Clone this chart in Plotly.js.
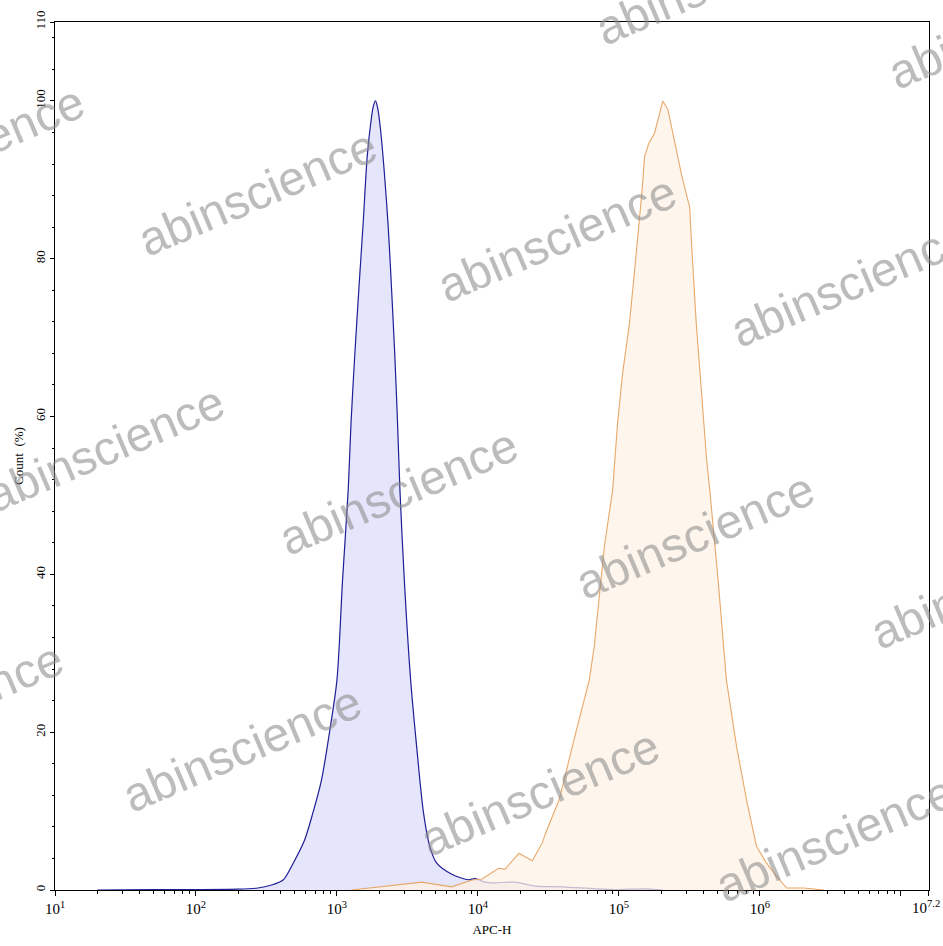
<!DOCTYPE html>
<html>
<head>
<meta charset="utf-8">
<script src="https://cdn.plot.ly/plotly-3.0.1.min.js"></script>
<style>html,body{margin:0;padding:0;background:#fff;}#chart{width:943px;height:946px;}</style>
</head>
<body>
<div id="chart"></div>
<script>
// Isotype control (blue) - x as log10(APC-H), y as Count (%)
const blueLogX = [1.3, 1.7, 2.0, 2.3, 2.44, 2.53, 2.62, 2.69, 2.77, 2.83, 2.89, 2.95, 3.00, 3.04, 3.08, 3.10, 3.126, 3.155, 3.186, 3.215, 3.240, 3.258, 3.274, 3.290, 3.308, 3.336, 3.364, 3.388, 3.411, 3.430, 3.447, 3.478, 3.523, 3.566, 3.614, 3.659, 3.708, 3.815, 3.934, 3.979, 4.05, 4.122, 4.264, 4.407, 4.6, 4.835, 4.977, 5.17, 5.312];
const blueY    = [0, 0.05, 0.05, 0.1, 0.25, 0.6, 1.3, 3.4, 6.3, 9.8, 13.9, 20.3, 26.6, 39.3, 50.7, 59.2, 67.6, 76.0, 84.5, 93.0, 97.2, 99.3, 100, 99.0, 96.6, 91.0, 84.0, 76.0, 67.6, 59.2, 50.7, 39.3, 26.6, 18.1, 9.8, 5.5, 3.4, 2.0, 1.3, 1.45, 1.0, 0.9, 1.0, 0.5, 0.4, 0.15, 0.05, 0.15, 0];
// Stained sample (orange)
const orangeLogX = [3.103, 3.602, 3.815, 3.958, 4.029, 4.148, 4.193, 4.291, 4.386, 4.457, 4.480, 4.576, 4.694, 4.790, 4.825, 4.861, 4.897, 4.956, 4.991, 5.027, 5.075, 5.110, 5.146, 5.165, 5.182, 5.212, 5.253, 5.312, 5.348, 5.383, 5.407, 5.443, 5.490, 5.502, 5.521, 5.549, 5.585, 5.621, 5.645, 5.704, 5.763, 5.835, 5.906, 5.977, 6.048, 6.120, 6.191, 6.310, 6.453];
const orangeY    = [0, 1.0, 0.4, 1.27, 1.4, 2.75, 2.65, 4.65, 3.7, 6.0, 7.2, 11.4, 19.9, 26.6, 30.8, 37.2, 43.5, 50.7, 59.2, 65.5, 71.8, 78.2, 84.5, 88.7, 92.9, 94.6, 95.9, 100, 98.9, 95.9, 93.8, 90.8, 87.4, 86.6, 80.3, 71.8, 63.4, 54.9, 50.7, 39.3, 26.6, 18.2, 11.4, 5.5, 3.4, 1.7, 0.25, 0.25, 0];

const xTickLog = [1, 2, 3, 4, 5, 6, 7, 7.2];
const xTickText = ['10<sup>1</sup>', '10<sup>2</sup>', '10<sup>3</sup>', '10<sup>4</sup>', '10<sup>5</sup>', '10<sup>6</sup>', ' ', ' '];
const xEndLabel = '10<sup>7.2</sup>';
const yTickVals = [0, 20, 40, 60, 80, 100, 110];

const watermarkText = 'abinscience';
const watermarkPx = [[258,193],[557,238],[850,283],[105,448],[399,492],[695,535],[990,585],[242,748],[540,792],[835,838],[-35,148],[-56,705],[715,-19],[1008,26],[84,1005]];

const pow10 = a => a.map(v => Math.pow(10, v));

// minor ticks on the log axis (2..9 per decade)
const minorX = [];
for (let d = 1; d <= 7; d++) for (let m = 2; m <= 9; m++) { const v = m * Math.pow(10, d); if (Math.log10(v) <= 7.2) minorX.push(v); }

const W = 943, H = 946, L = 55, R = 14, T = 22, B = 56;
const pw = W - L - R, ph = H - T - B;

const traces = [
  {x: pow10(blueLogX), y: blueY, type: 'scatter', mode: 'lines', fill: 'tozeroy',
   fillcolor: 'rgba(225,225,250,0.85)', line: {color: '#1e1e96', width: 1.2, shape: 'spline', smoothing: 0.8}, hoverinfo: 'skip'},
  {x: pow10(orangeLogX), y: orangeY, type: 'scatter', mode: 'lines', fill: 'tozeroy',
   fillcolor: 'rgba(253,241,230,0.75)', line: {color: '#e8a86a', width: 1.1, shape: 'linear'}, hoverinfo: 'skip'}
];

const annotations = watermarkPx.map(p => ({
  text: watermarkText, xref: 'paper', yref: 'paper',
  x: (p[0] - L) / pw, y: (H - B - p[1]) / ph, xanchor: 'center', yanchor: 'middle',
  showarrow: false, textangle: -23,
  font: {family: 'Liberation Sans, Arial, sans-serif', size: 48, color: 'rgba(140,140,140,0.58)'}
}));
// end-of-axis tick label, right-aligned so it stays inside the page
annotations.push({
  text: xEndLabel, xref: 'paper', yref: 'paper', x: (942 - L) / pw, y: 0,
  xanchor: 'right', yanchor: 'top', yshift: -6, showarrow: false,
  font: {family: 'Liberation Serif, serif', size: 15, color: '#000'}
});

const layout = {
  width: W, height: H,
  margin: {l: L, r: R, t: T, b: B},
  paper_bgcolor: '#fff', plot_bgcolor: '#fff',
  showlegend: false,
  font: {family: 'Liberation Serif, Times New Roman, serif', color: '#000'},
  xaxis: {
    type: 'log', range: [1, 7.2002], autorange: false,
    tickmode: 'array', tickvals: pow10(xTickLog), ticktext: xTickText,
    ticks: 'outside', ticklen: 5, tickwidth: 1, tickcolor: '#000',
    minor: {tickmode: 'array', tickvals: minorX, ticks: 'outside', ticklen: 3, tickcolor: '#000', showgrid: false},
    showline: true, linecolor: '#000', linewidth: 1.2, mirror: true,
    showgrid: false, zeroline: false,
    tickfont: {size: 15, family: 'Liberation Serif, serif'},
    title: {text: 'APC-H', font: {size: 13, family: 'Liberation Serif, serif'}, standoff: 8}
  },
  yaxis: {
    range: [0, 110], autorange: false,
    tickmode: 'array', tickvals: yTickVals, ticktext: yTickVals.map(String),
    tickangle: -90,
    ticks: 'outside', ticklen: 4, tickwidth: 1, tickcolor: '#000',
    minor: {dtick: 4, tick0: 0, ticks: 'outside', ticklen: 2, tickcolor: '#000', showgrid: false},
    showline: true, linecolor: '#000', linewidth: 1.2, mirror: true,
    showgrid: false, zeroline: false,
    tickfont: {size: 13, family: 'Liberation Serif, serif'},
    title: {text: 'Count  (%)', font: {size: 13, family: 'Liberation Serif, serif'}, standoff: 6}
  },
  annotations: annotations
};

Plotly.newPlot('chart', traces, layout, {displayModeBar: false, staticPlot: true});
</script>
</body>
</html>
